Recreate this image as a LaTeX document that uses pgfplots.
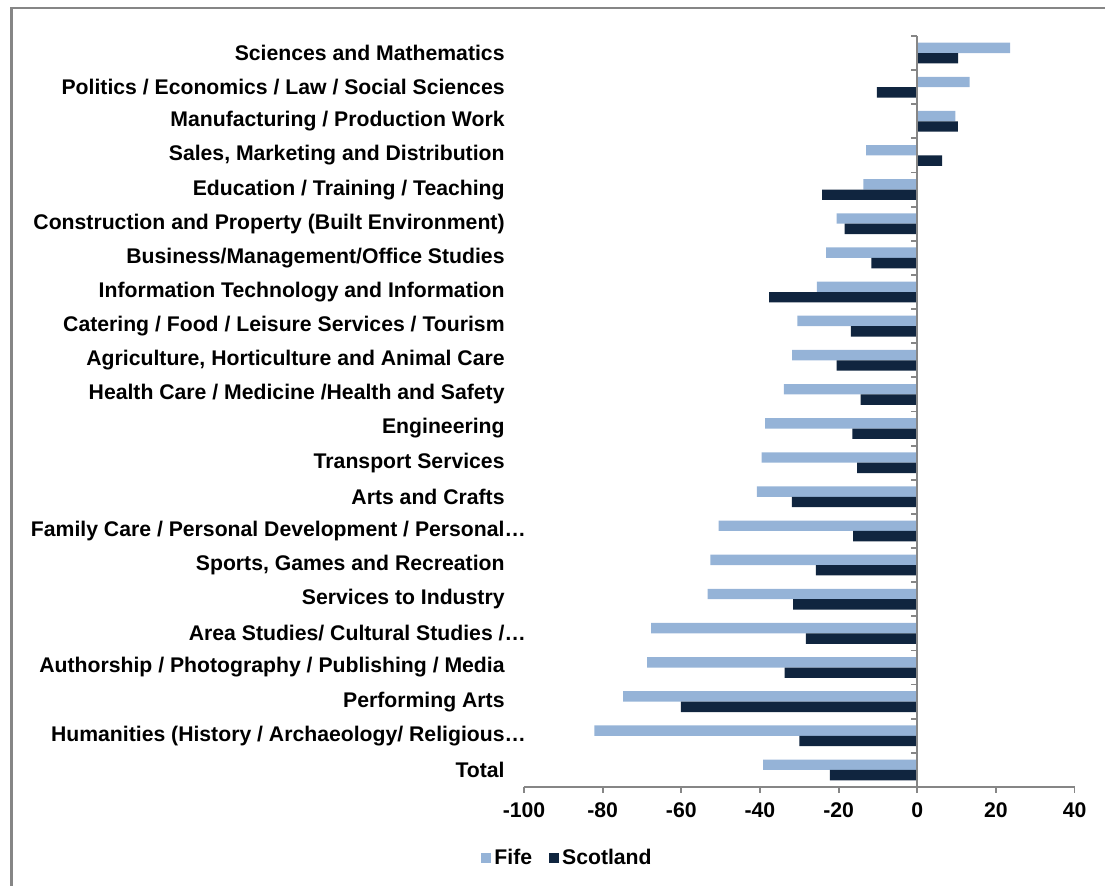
\documentclass[border=0pt]{standalone}
\usepackage{pgfplots}
\pgfplotsset{compat=1.18}
\usepackage{pgfplotstable}
\usepackage{fontspec}
\setmainfont{Liberation Sans}

\definecolor{fifeblue}{RGB}{149,179,215}
\definecolor{scotnavy}{RGB}{16,37,63}
\definecolor{axisgray}{RGB}{134,134,134}

\newcommand\lblfont{\fontsize{10.6}{12.7}\selectfont\bfseries}

% Percentage change by subject area (idx 0 = Total at the bottom)
\pgfplotstableread{
idx fife scotland
21  23.6  10.4
20  13.3 -10.3
19   9.7  10.3
18 -13.0   6.3
17 -13.7 -24.2
16 -20.5 -18.5
15 -23.2 -11.7
14 -25.5 -37.7
13 -30.5 -16.9
12 -31.8 -20.5
11 -33.9 -14.4
10 -38.7 -16.5
9  -39.6 -15.3
8  -40.8 -31.9
7  -50.5 -16.3
6  -52.6 -25.8
5  -53.3 -31.6
4  -67.7 -28.3
3  -68.7 -33.7
2  -74.8 -60.1
1  -82.1 -30.0
0  -39.2 -22.2
}\subjects

\begin{document}
\begin{tikzpicture}
\path[use as bounding box] (0,0) rectangle (552.5pt,443pt);
% outer frame
\draw[axisgray, line width=1.5pt] (5.9pt,0pt) -- (5.9pt,438.9pt);
\draw[axisgray, line width=1pt] (5.15pt,438.9pt) -- (552.5pt,438.9pt);

\begin{axis}[
  at={(262pt,49.5pt)}, anchor=south west,
  scale only axis, width=275.3pt, height=375.5pt,
  xmin=-100, xmax=40, ymin=-0.5, ymax=21.5,
  axis x line*=bottom, axis y line*=left,
  x axis line style={axisgray, line width=0.9pt},
  y axis line style={draw=none},
  xtick={-100,-80,-60,-40,-20,0,20,40},
  xticklabels={-100,-80,-60,-40,-20,0,20,40},
  tick align=outside, major tick length=3pt,
  xtick style={axisgray, line width=0.9pt},
  ytick style={draw=none},
  ytick={0,...,21},
  yticklabels={
    {Total},
    {Humanities (History / Archaeology/ Religious\rlap{…}},
    {Performing Arts},
    {Authorship / Photography / Publishing / Media},
    {Area Studies/ Cultural Studies /\rlap{…}},
    {Services to Industry},
    {Sports, Games and Recreation},
    {Family Care / Personal Development / Personal\rlap{…}},
    {Arts and Crafts},
    {Transport Services},
    {Engineering},
    {Health Care / Medicine /Health and Safety},
    {Agriculture, Horticulture and Animal Care},
    {Catering / Food / Leisure Services / Tourism},
    {Information Technology and Information},
    {Business/Management/Office Studies},
    {Construction and Property (Built Environment)},
    {Education / Training / Teaching},
    {Sales, Marketing and Distribution},
    {Manufacturing / Production Work},
    {Politics / Economics / Law / Social Sciences},
    {Sciences and Mathematics}},
  yticklabel style={font=\lblfont, inner sep=0pt, anchor=east, xshift=-6.5pt},
  xticklabel style={font=\lblfont, inner sep=0pt, anchor=north, yshift=-4.5pt},
  bar width=5.2pt,
  legend columns=2,
  legend style={at={(0.08,-0.0945)}, anchor=center, draw=none, fill=none,
    font=\lblfont, inner sep=0pt,
    /tikz/every even column/.append style={column sep=7pt},
    nodes={inner xsep=1.5pt, inner ysep=0pt}},
  legend image code/.code={\fill[#1] (0pt,-2.5pt) rectangle (5pt,2.5pt);},
  clip=false,
]
\addplot[xbar, bar shift=2.6pt, fill=fifeblue, draw=none]
  table[x=fife, y=idx] {\subjects};
\addlegendentry{Fife}
\addplot[xbar, bar shift=-2.6pt, fill=scotnavy, draw=none]
  table[x=scotland, y=idx] {\subjects};
\addlegendentry{Scotland}

% value axis at zero with category tick marks
\draw[axisgray, line width=1pt] (axis cs:0,-0.5) -- (axis cs:0,21.5);
\pgfplotsinvokeforeach{-0.5,0.5,...,21.5}{
  \draw[axisgray, line width=0.9pt] (axis cs:0,#1) -- ++(-3pt,0pt);
}
\end{axis}
\end{tikzpicture}
\end{document}
